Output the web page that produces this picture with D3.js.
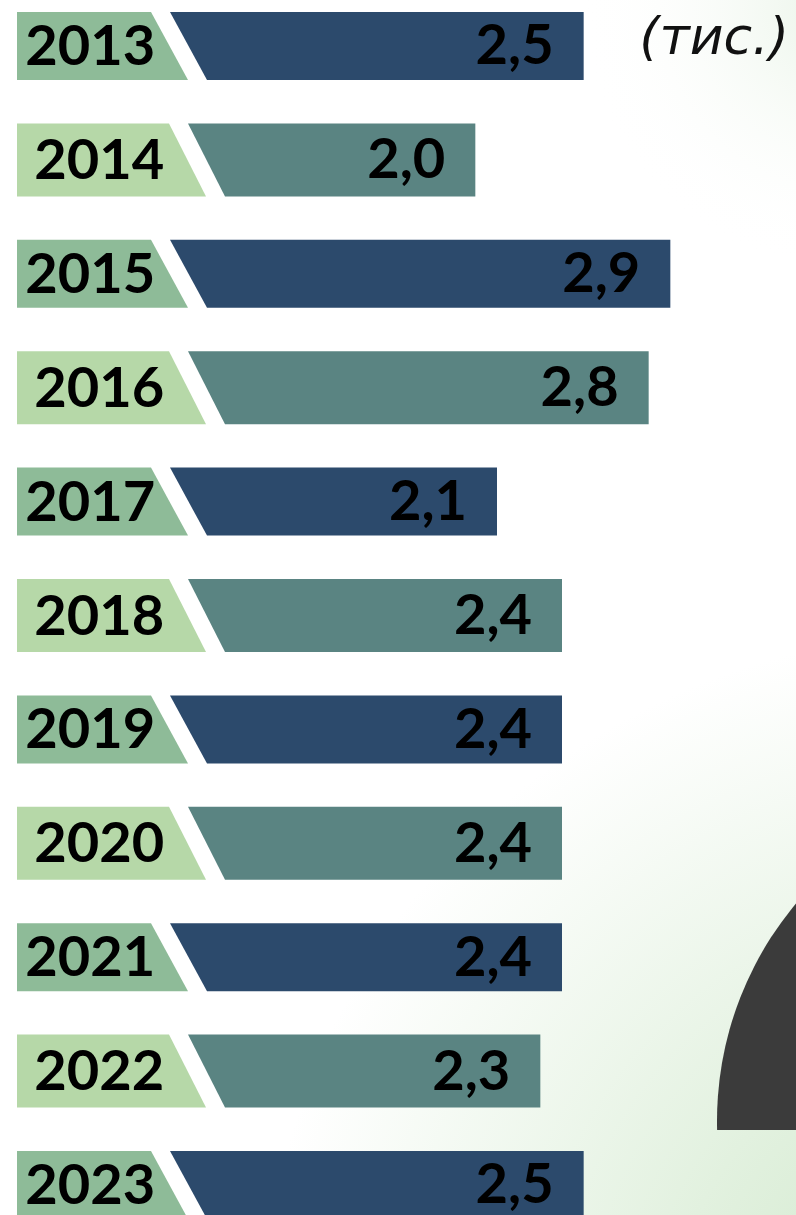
<!DOCTYPE html>
<html>
<head>
<meta charset="utf-8">
<script src="https://cdn.jsdelivr.net/npm/d3@7"></script>
<style>
  html, body { margin: 0; padding: 0; background: #fff; }
  #chart svg { display: block; }
  .year { font-family: Lato, sans-serif; font-weight: 700; font-size: 56px; fill: #000; }
  .value { font-family: Lato, sans-serif; font-weight: 700; font-size: 56px; fill: #000; }
  .unit { font-family: 'DejaVu Sans', sans-serif; font-style: italic; font-size: 52px; fill: #111; }
</style>
</head>
<body>
<div id="chart"></div>
<script>
// data
const years = ['2013', '2014', '2015', '2016', '2017', '2018', '2019', '2020', '2021', '2022', '2023'];
const values = [2.5, 2.0, 2.9, 2.8, 2.1, 2.4, 2.4, 2.4, 2.4, 2.3, 2.5];
const valueLabels = ['2,5', '2,0', '2,9', '2,8', '2,1', '2,4', '2,4', '2,4', '2,4', '2,3', '2,5'];
const unitLabel = '(тис.)';

// constants
const width = 796,
      height = 1215;

const colors = {
  bar: ['#2c4a6c', '#5a8482'],
  tag: ['#8ebb98', '#b6d8a8']
};

let xScale,
    yScale,
    rows;

let $svg,
    $rows;

function init() {
  rows = years.map((year, i) => ({
    year,
    value: values[i],
    label: valueLabels[i],
    odd: i % 2
  }));

  xScale = d3.scaleLinear()
    .domain([0, 3])
    .range([42, 692]);

  yScale = d3.scalePoint()
    .domain(years)
    .range([46, 1185]);

  $svg = d3.select('#chart').append('svg')
    .attr('width', width)
    .attr('height', height);

  drawBackground();
  drawRows();
}

function drawBackground() {
  const defs = $svg.append('defs');

  const bg = defs.append('radialGradient')
    .attr('id', 'bg')
    .attr('gradientUnits', 'userSpaceOnUse')
    .attr('cx', 960).attr('cy', 1330).attr('r', 820);
  bg.append('stop').attr('offset', 0).attr('stop-color', '#cfe8cb');
  bg.append('stop').attr('offset', 0.35).attr('stop-color', '#e2f1df');
  bg.append('stop').attr('offset', 0.85).attr('stop-color', '#ffffff');

  const corner = defs.append('radialGradient')
    .attr('id', 'corner')
    .attr('gradientUnits', 'userSpaceOnUse')
    .attr('cx', 840).attr('cy', 10).attr('r', 260);
  corner.append('stop').attr('offset', 0).attr('stop-color', '#eaf4e8');
  corner.append('stop').attr('offset', 1).attr('stop-color', '#ffffff').attr('stop-opacity', 0);

  $svg.append('rect')
    .attr('width', width)
    .attr('height', height)
    .attr('fill', 'url(#bg)');

  $svg.append('rect')
    .attr('width', width)
    .attr('height', height)
    .attr('fill', 'url(#corner)');

  // dark round shape bottom right, cut flat at its base
  const cx = 1056, cy = 1121, r = 339, base = 1130;
  const dx = Math.sqrt(r * r - (base - cy) * (base - cy));
  $svg.append('path')
    .attr('fill', '#3b3b3b')
    .attr('d', `M${cx - dx},${base} A${r},${r} 0 1 1 ${cx + dx},${base} Z`);

  $svg.append('text')
    .classed('unit', true)
    .attr('x', 789)
    .attr('y', 54)
    .attr('text-anchor', 'end')
    .text(unitLabel);
}

function drawRows() {
  const left = 17,
        slant = 37,
        gap = 19;

  $rows = $svg.selectAll('.row')
    .data(rows)
    .enter()
    .append('g')
    .classed('row', true)
    .attr('transform', d => `translate(0, ${yScale(d.year)})`);

  // geometry per row (alternating tag width / bar height)
  const h = d => d.odd ? 73 : 68;
  const tagRight = d => d.odd ? 169 : 151;

  $rows.append('path')
    .classed('tag', true)
    .attr('fill', d => colors.tag[d.odd])
    .attr('d', d => {
      const t = -h(d) / 2, b = h(d) / 2;
      return `M${left},${t}H${tagRight(d)}L${tagRight(d) + slant},${b}H${left}Z`;
    });

  $rows.append('path')
    .classed('bar', true)
    .attr('fill', d => colors.bar[d.odd])
    .attr('d', d => {
      const t = -h(d) / 2, b = h(d) / 2;
      const x0 = tagRight(d) + gap;
      return `M${x0},${t}H${xScale(d.value)}V${b}H${x0 + slant}Z`;
    });

  $rows.append('text')
    .classed('year', true)
    .attr('x', d => (left + tagRight(d) + slant / 2) / 2 - 3)
    .attr('y', 0)
    .attr('dy', '0.34em')
    .attr('text-anchor', 'middle')
    .text(d => d.year);

  $rows.append('text')
    .classed('value', true)
    .attr('x', d => xScale(d.value) - 30)
    .attr('y', 0)
    .attr('dy', '0.33em')
    .attr('text-anchor', 'end')
    .text(d => d.label);
}

init();
</script>
</body>
</html>
